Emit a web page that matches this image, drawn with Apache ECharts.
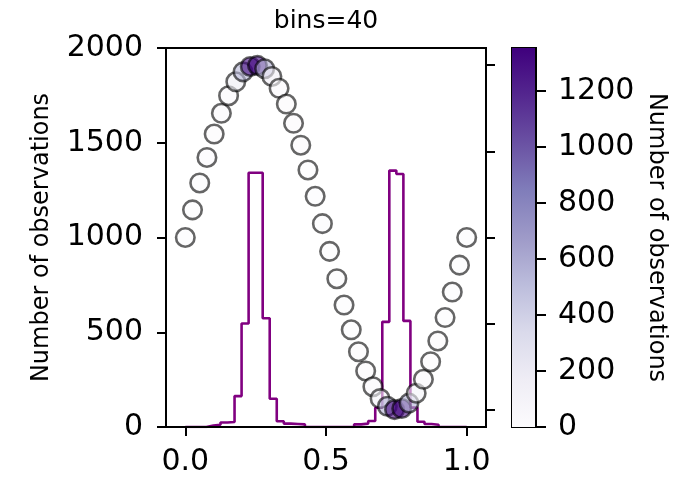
<!DOCTYPE html>
<html>
<head>
<meta charset="utf-8">
<script src="https://cdn.jsdelivr.net/npm/echarts@6/dist/echarts.min.js"></script>
<style>
html,body{margin:0;padding:0;background:#fff;}
#chart{width:674px;height:477px;}
</style>
</head>
<body>
<div id="chart"></div>
<script>
// ---- data ----
const titleText = 'bins=40';
const binCount = 40;
const histRange = [0, 1];
const histCounts = [0, 0, 0, 8, 12, 24, 26, 163, 546, 1342, 1342, 574, 149, 30, 18, 16, 14, 0, 0, 0,
                    0, 0, 0, 0, 14, 18, 32, 102, 555, 1353, 1335, 560, 102, 28, 16, 12, 0, 0, 0, 0];
const pointX = [0, 0.0256, 0.0513, 0.0769, 0.1026, 0.1282, 0.1538, 0.1795, 0.2051, 0.2308,
                0.2564, 0.2821, 0.3077, 0.3333, 0.3590, 0.3846, 0.4103, 0.4359, 0.4615, 0.4872,
                0.5128, 0.5385, 0.5641, 0.5897, 0.6154, 0.6410, 0.6667, 0.6923, 0.7179, 0.7436,
                0.7692, 0.7949, 0.8205, 0.8462, 0.8718, 0.8974, 0.9231, 0.9487, 0.9744, 1.0];
const pointY = [0, 0.1604, 0.3167, 0.4647, 0.6007, 0.7212, 0.8230, 0.9037, 0.9613, 0.9927,
                0.9992, 0.9798, 0.9350, 0.8660, 0.7746, 0.6631, 0.5358, 0.3920, 0.2393, 0.0805,
                -0.0805, -0.2393, -0.3920, -0.5358, -0.6631, -0.7746, -0.8660, -0.9350, -0.9798, -0.9992,
                -0.9927, -0.9613, -0.9037, -0.8230, -0.7212, -0.6007, -0.4647, -0.3167, -0.1604, 0];
const pointCounts = [0, 0, 0, 8, 12, 24, 26, 163, 546, 1342, 1342, 574, 149, 30, 18, 16, 14, 0, 0, 0,
                     0, 0, 0, 0, 14, 18, 32, 102, 555, 1353, 1335, 560, 102, 28, 16, 12, 0, 0, 0, 0];
const xTicks = [0, 0.5, 1];
const yTicks = [0, 500, 1000, 1500, 2000];
const twinTicks = [-1, -0.5, 0, 0.5, 1];
const cbTicks = [0, 200, 400, 600, 800, 1000, 1200];
const yLabel = 'Number of observations';
const cbLabel = 'Number of observations';
const purples = ['#fcfbfd', '#efedf5', '#dadaeb', '#bcbddc', '#9e9ac8', '#807dba', '#6a51a3', '#54278f', '#3f007d'];

// ---- build ----
const binW = (histRange[1] - histRange[0]) / binCount;
const histLine = [];
for (let i = 0; i < binCount; i++) histLine.push([histRange[0] + i * binW, histCounts[i]]);
histLine.push([histRange[1], histCounts[binCount - 1]]);
histLine.push([histRange[1], 0]);
const scatterData = pointX.map((x, i) => [x, pointY[i], pointCounts[i]]);
const cbMax = Math.max(...pointCounts);

const FONT = 'DejaVu Sans';
const black = '#000';
const chart = echarts.init(document.getElementById('chart'), null, {renderer: 'canvas'});
const stops = purples.map((c, i) => ({offset: i / (purples.length - 1), color: c}));
const plain = v => String(v);

chart.setOption({
  animation: false,
  backgroundColor: '#fff',
  textStyle: {fontFamily: FONT, color: black},
  title: {
    text: titleText, left: 326, top: 9, textAlign: 'center', padding: 0,
    textStyle: {fontFamily: FONT, fontSize: 25, fontWeight: 'normal', color: black}
  },
  grid: [
    {left: 166, top: 48, width: 320, height: 380, show: true, borderColor: black, borderWidth: 2, backgroundColor: 'transparent'},
    {left: 512, top: 48, width: 24, height: 379, show: true, borderColor: black, borderWidth: 2, backgroundColor: 'transparent'}
  ],
  visualMap: {
    type: 'continuous', show: false, min: 0, max: cbMax, dimension: 2, seriesIndex: 1,
    inRange: {color: purples}
  },
  xAxis: [
    {
      gridIndex: 0, type: 'value', min: -0.0686, max: 1.0686, position: 'bottom', z: 10,
      axisLine: {show: true, onZero: false, lineStyle: {color: black, width: 2}},
      axisTick: {show: true, customValues: xTicks, length: 9, lineStyle: {color: black, width: 2}},
      axisLabel: {customValues: xTicks, formatter: v => v.toFixed(1), fontSize: 30, color: black, margin: 20, fontFamily: FONT},
      splitLine: {show: false}
    },
    {
      gridIndex: 1, type: 'category', data: [''], show: false, boundaryGap: true
    }
  ],
  yAxis: [
    {
      gridIndex: 0, type: 'value', min: 0, max: 2000, interval: 500, position: 'left', z: 10,
      axisLine: {show: true, onZero: false, lineStyle: {color: black, width: 2}},
      axisTick: {show: true, customValues: yTicks, length: 9, lineStyle: {color: black, width: 2}},
      axisLabel: {customValues: yTicks, formatter: plain, fontSize: 30, color: black, margin: 23, fontFamily: FONT},
      splitLine: {show: false},
      name: yLabel, nameLocation: 'middle', nameRotate: 90, nameGap: 112,
      nameTextStyle: {fontSize: 24, color: black, fontFamily: FONT}
    },
    {
      gridIndex: 0, type: 'value', min: -1.1, max: 1.1, position: 'right', z: 10,
      axisLine: {show: true, onZero: false, lineStyle: {color: black, width: 2}},
      axisTick: {show: true, customValues: twinTicks, length: 9, lineStyle: {color: black, width: 2}},
      axisLabel: {show: false},
      splitLine: {show: false}
    },
    {
      gridIndex: 1, type: 'value', min: 0, max: cbMax, position: 'right', z: 10,
      axisLine: {show: true, onZero: false, lineStyle: {color: black, width: 2}},
      axisTick: {show: true, customValues: cbTicks, length: 10, lineStyle: {color: black, width: 2}},
      axisLabel: {customValues: cbTicks, formatter: plain, fontSize: 30, color: black, margin: 22, fontFamily: FONT},
      splitLine: {show: false},
      name: cbLabel, nameLocation: 'middle', nameRotate: -90, nameGap: 108,
      nameTextStyle: {fontSize: 24, color: black, fontFamily: FONT}
    }
  ],
  series: [
    {
      type: 'line', xAxisIndex: 0, yAxisIndex: 0, data: histLine, step: 'end',
      symbol: 'none', z: 2, silent: true,
      lineStyle: {color: '#800080', width: 2.6}
    },
    {
      type: 'scatter', xAxisIndex: 0, yAxisIndex: 1, data: scatterData,
      symbol: 'circle', symbolSize: 18.5, z: 3, silent: true,
      itemStyle: {borderColor: black, borderWidth: 2.6, opacity: 0.6}
    },
    {
      type: 'bar', xAxisIndex: 1, yAxisIndex: 2, data: [cbMax], barWidth: '100%', silent: true, z: 1,
      itemStyle: {color: new echarts.graphic.LinearGradient(0, 1, 0, 0, stops)}
    }
  ]
});
</script>
</body>
</html>
